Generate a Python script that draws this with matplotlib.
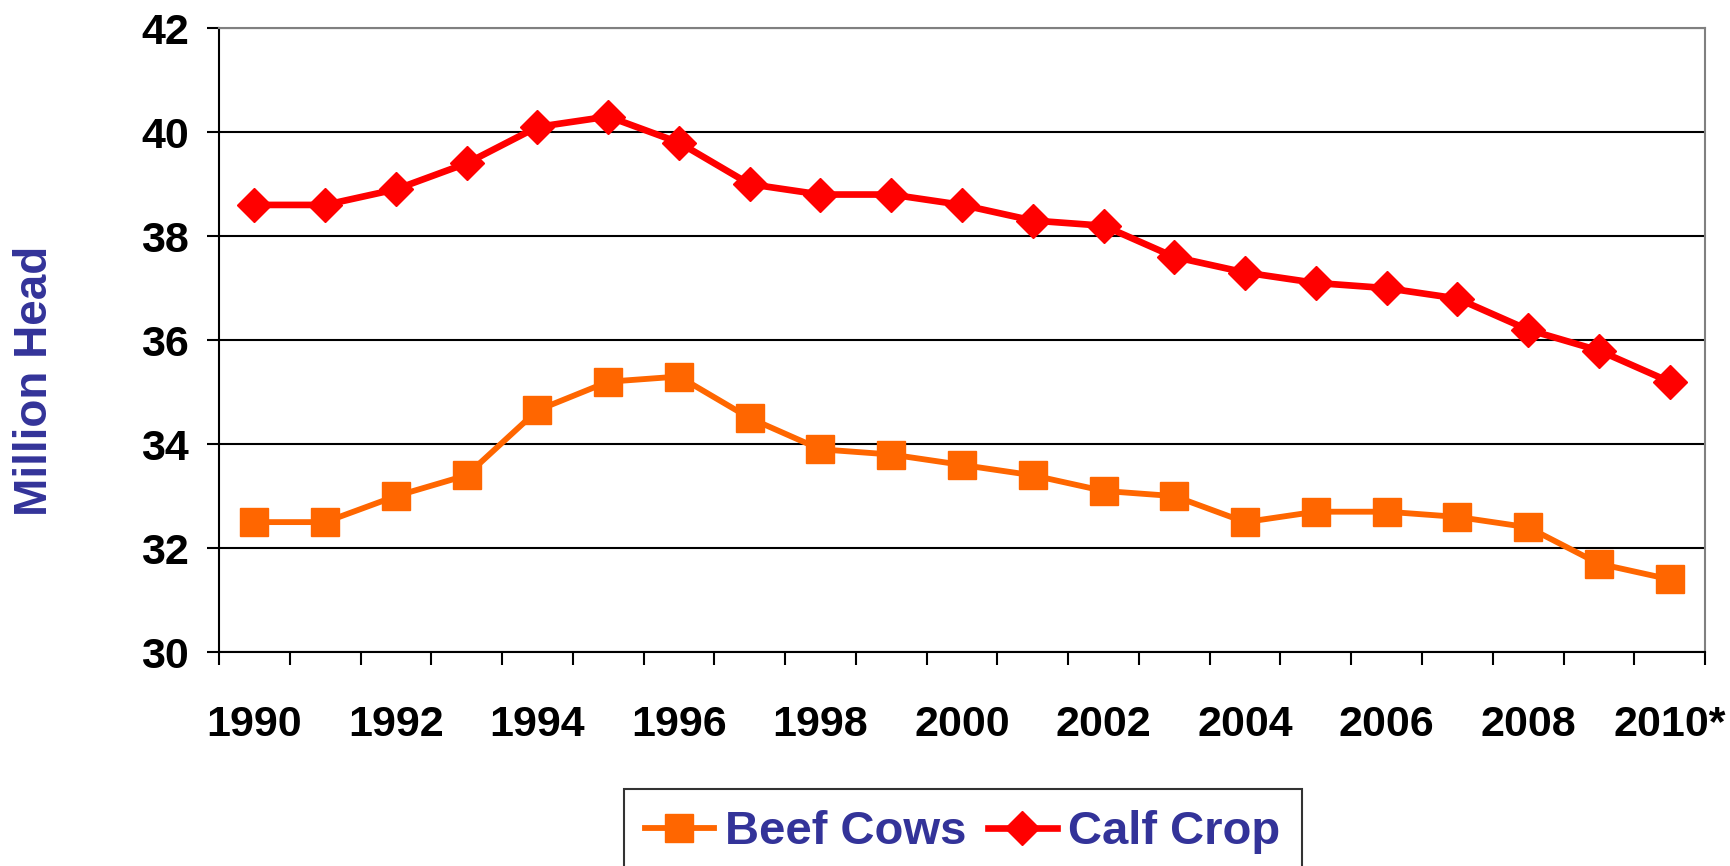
import numpy as np
import matplotlib.pyplot as plt

years = ['1990', '1991', '1992', '1993', '1994', '1995', '1996', '1997', '1998', '1999', '2000',
         '2001', '2002', '2003', '2004', '2005', '2006', '2007', '2008', '2009', '2010*']
beef_cows = [32.5, 32.5, 33.0, 33.4, 34.65, 35.2, 35.3, 34.5, 33.9, 33.8, 33.6,
             33.4, 33.1, 33.0, 32.5, 32.7, 32.7, 32.6, 32.4, 31.7, 31.4]
calf_crop = [38.6, 38.6, 38.9, 39.4, 40.1, 40.3, 39.8, 39.0, 38.8, 38.8, 38.6,
             38.3, 38.2, 37.6, 37.3, 37.1, 37.0, 36.8, 36.2, 35.8, 35.2]

plt.rcParams['font.family'] = ['Liberation Sans', 'DejaVu Sans']
plt.rcParams['font.weight'] = 'bold'

fig = plt.figure(figsize=(17.31, 8.66), dpi=100)
ax = fig.add_axes([0.1265, 0.247, 0.8585, 0.7205])

x = np.arange(len(years))
ax.plot(x, beef_cows, color='#FF6600', lw=4.2, marker='s', ms=20, label='Beef Cows')
ax.plot(x, calf_crop, color='#FF0000', lw=4.8, marker='D', ms=17, label='Calf Crop')

ax.set_xlim(-0.5, len(years) - 0.5)
ax.set_ylim(30, 42)
ax.set_yticks(np.arange(30, 43, 2))
ax.yaxis.grid(True, color='black', lw=1.5)
ax.set_axisbelow(True)

ax.set_xticks(x[::2])
ax.set_xticklabels(years[::2])
ax.set_xticks(np.arange(-0.5, len(years)), minor=True)
ax.tick_params(axis='x', which='major', length=0, pad=38, labelsize=31)
ax.tick_params(axis='x', which='minor', length=9.5, width=1.5, color='black')
ax.tick_params(axis='y', length=8.6, width=1.5, pad=13, labelsize=31)

for s in ['left', 'bottom']:
    ax.spines[s].set_color('black')
    ax.spines[s].set_linewidth(1.5)
for s in ['top', 'right']:
    ax.spines[s].set_color('#808080')
    ax.spines[s].set_linewidth(1.5)

fig.text(0.02, 0.56, 'Million Head', rotation=90, ha='center', va='center',
         fontsize=33, color='#333399', fontweight='bold')

leg = ax.legend(loc='upper center', bbox_to_anchor=(0.5563, 0.0889),
                bbox_transform=fig.transFigure, ncol=2, fontsize=34,
                frameon=True, fancybox=False, edgecolor='black', borderaxespad=0,
                borderpad=0.45, handlelength=1.45, columnspacing=0.45, handletextpad=0.25)
leg.get_frame().set_linewidth(1.5)
for t in leg.get_texts():
    t.set_color('#333399')

fig.savefig('out.png', dpi=100)
